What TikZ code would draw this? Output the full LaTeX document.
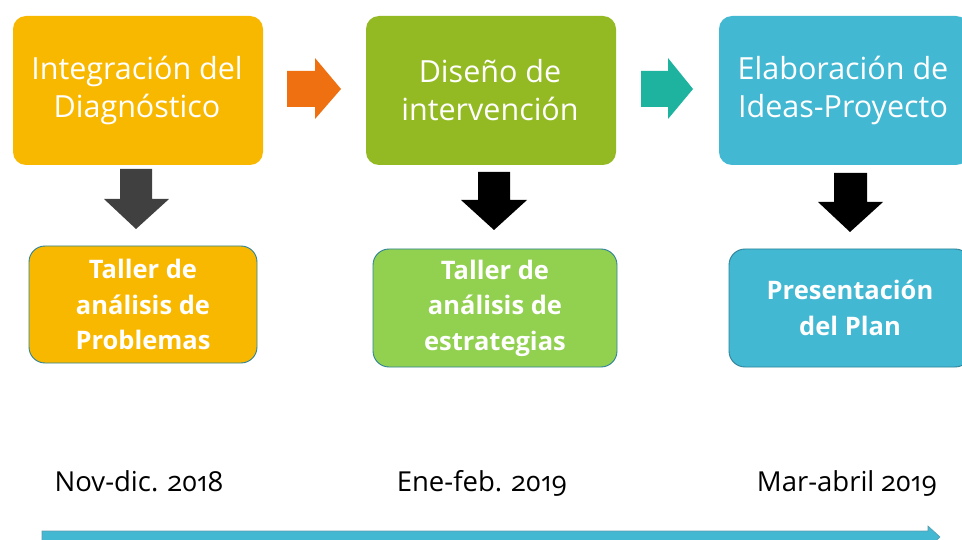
\documentclass[tikz,border=0pt]{standalone}
\usepackage{fontspec}
\setmainfont{Open Sans}[Numbers=OldStyle]
\definecolor{cyel}{HTML}{F9B800}
\definecolor{cgrn}{HTML}{93BA23}
\definecolor{clgr}{HTML}{92D050}
\definecolor{cblu}{HTML}{42B8D3}
\definecolor{corg}{HTML}{EE7010}
\definecolor{ctea}{HTML}{1DB39F}
\definecolor{cdgr}{HTML}{404040}
\definecolor{cbrd}{HTML}{2E8398}
\begin{document}
\begin{tikzpicture}[x=1pt,y=-1pt,
  topbox/.style={draw=none, rounded corners=13pt, inner sep=0pt, minimum width=250pt, minimum height=149pt},
  toptext/.style={text=white, align=center, inner sep=0pt, font=\fontsize{30.5}{38}\selectfont},
  subbox/.style={draw=cbrd, line width=0.9pt, rounded corners=16pt, inner sep=0pt, text=white, align=center, font=\fontsize{25.5}{35.5}\selectfont\bfseries},
  datetext/.style={anchor=base, inner sep=0pt, font=\fontsize{27.5}{30}\selectfont, text=black}
]
\clip (0,0) rectangle (962,540);
\useasboundingbox (0,0) rectangle (962,540);
\fill[white] (0,0) rectangle (962,540);

% top boxes
\node[topbox, fill=cyel] (b1) at (138,90.5) {};
\node[topbox, fill=cgrn] (b2) at (491,90.5) {};
\node[topbox, fill=cblu] (b3) at (844,90.5) {};
\node[toptext] (t1) at (137,90) {Integración del\\Diagnóstico};
\node[toptext] (t2) at (490,90) {Diseño de\\intervención};
\node[toptext] (t3) at (843,90) {Elaboración de\\Ideas-Proyecto};

% horizontal block arrows
\fill[corg] (287,71) -- (315,71) -- (315,58) -- (341,89) -- (315,119) -- (315,107) -- (287,107) -- cycle;
\fill[ctea] (641,71) -- (668,71) -- (668,58) -- (693,89) -- (668,119) -- (668,107) -- (641,107) -- cycle;

% down block arrows
\fill[cdgr] (120,169) -- (152,169) -- (152,199) -- (169,199) -- (136,229) -- (104,199) -- (120,199) -- cycle;
\fill[black] (478,172) -- (510,172) -- (510,200) -- (527,200) -- (494,230) -- (461,200) -- (478,200) -- cycle;
\fill[black] (834,173) -- (867,173) -- (867,202) -- (883,202) -- (850,232) -- (818,202) -- (834,202) -- cycle;

% sub boxes
\node[subbox, fill=cyel, minimum width=228pt, minimum height=117pt] (s1) at (143,304.5) {Taller de\\análisis de\\Problemas};
\node[subbox, fill=clgr, minimum width=244pt, minimum height=118pt] (s2) at (495,308) {Taller de\\análisis de\\estrategias};
\node[subbox, fill=cblu, minimum width=242pt, minimum height=118pt] (s3) at (850,308) {Presentación\\del Plan};

% dates
\node[datetext] (d1) at (139,491) {Nov-dic. 2018};
\node[datetext] (d2) at (482,491) {Ene-feb. 2019};
\node[datetext] (d3) at (847,491) {Mar-abril 2019};

% timeline
\filldraw[fill=cblu, draw=cbrd!80, line width=0.6pt] (42,531) -- (928,531) -- (928,526) -- (940,537) -- (928,548) -- (928,545) -- (42,545) -- cycle;
\end{tikzpicture}
\end{document}
